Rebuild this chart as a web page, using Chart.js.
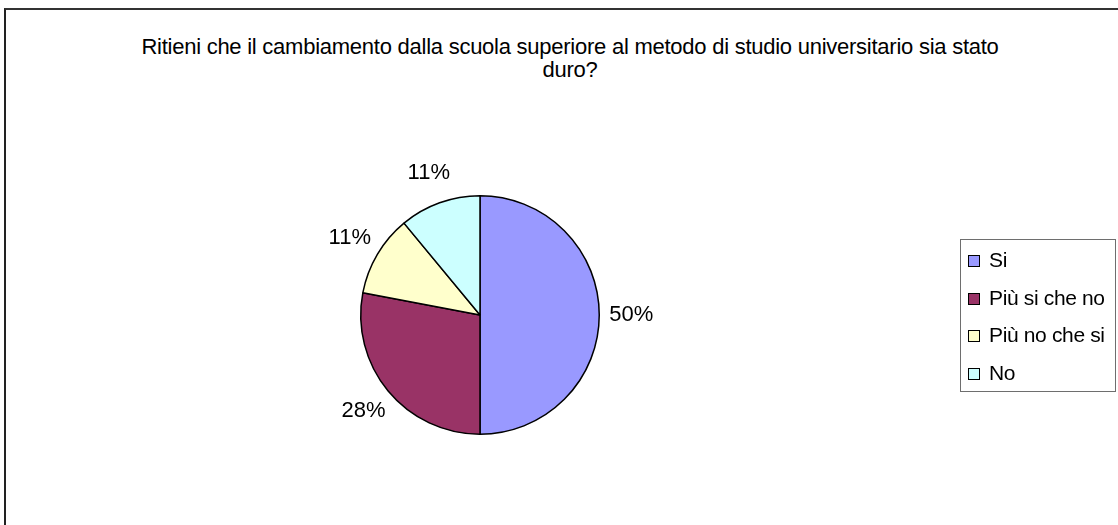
<!DOCTYPE html>
<html>
<head>
<meta charset="utf-8">
<script src="https://cdn.jsdelivr.net/npm/chart.js@4/dist/chart.umd.min.js"></script>
<style>
    html, body { margin: 0; padding: 0; background: #fff; overflow: hidden; }
    body { width: 1118px; height: 525px; position: relative; font-family: "Liberation Sans", Arial, sans-serif; }
    .frame {
        position: absolute; left: 4px; top: 8px; width: 1200px; height: 600px;
        border-left: 2px solid #222; border-top: 2px solid #333;
    }
    .title {
        position: absolute; left: 0; width: 1140px; top: 35px;
        text-align: center; font-size: 22px; line-height: 23px; color: #000;
        letter-spacing: -0.25px;
    }
    #chart { position: absolute; left: 0; top: 0; }
    .legend {
        position: absolute; left: 960px; top: 239px; width: 156px; height: 153px;
        border: 1px solid #6e6e6e; box-sizing: border-box;
    }
    .legend div {
        position: absolute; left: 28px; font-size: 21px; line-height: 20px;
        letter-spacing: -0.35px; white-space: nowrap;
    }
    .legend span {
        position: absolute; left: -21px; top: 5px; width: 10px; height: 10px;
        border: 1px solid #000;
    }
</style>
</head>
<body>
<div class="frame"></div>
<div class="title">Ritieni che il cambiamento dalla scuola superiore al metodo di studio universitario sia stato<br>duro?</div>
<canvas id="chart" width="1118" height="525"></canvas>
<div class="legend" id="legend"></div>
<script>
// dati del grafico
const categorie = ['Si', 'Più si che no', 'Più no che si', 'No'];
const percentuali = [50, 28, 11, 11];
const colori = ['#9999FF', '#993366', '#FFFFCC', '#CCFFFF'];

// etichette percentuali fuori dalla torta
const etichettePlugin = {
    id: 'etichette',
    afterDatasetsDraw(chart) {
        const ctx = chart.ctx;
        const meta = chart.getDatasetMeta(0);
        const dati = chart.data.datasets[0].data;
        const totale = dati.reduce((a, b) => a + b, 0);
        ctx.save();
        ctx.font = '22px "Liberation Sans", Arial, sans-serif';
        ctx.fillStyle = '#000';
        ctx.textAlign = 'center';
        ctx.textBaseline = 'middle';
        meta.data.forEach((arc, i) => {
            const p = arc.getProps(['x', 'y', 'startAngle', 'endAngle', 'outerRadius'], true);
            const mid = (p.startAngle + p.endAngle) / 2;
            const dist = p.outerRadius + 32;
            const testo = Math.round(dati[i] / totale * 100) + '%';
            ctx.fillText(testo, p.x + Math.cos(mid) * dist, p.y + Math.sin(mid) * dist);
        });
        ctx.restore();
    }
};

const grafico = new Chart(document.getElementById('chart'), {
    type: 'pie',
    data: {
        labels: categorie,
        datasets: [{
            data: percentuali,
            backgroundColor: colori,
            borderColor: '#000',
            borderWidth: 1.5
        }]
    },
    options: {
        responsive: false,
        animation: false,
        layout: {
            padding: { left: 360, right: 518, top: 195, bottom: 90 }
        },
        plugins: {
            legend: { display: false },
            tooltip: { enabled: false }
        }
    },
    plugins: [etichettePlugin]
});

// legenda costruita dagli stessi array
const legenda = document.getElementById('legend');
categorie.forEach((nome, i) => {
    const riga = document.createElement('div');
    riga.style.top = (10 + i * 37.7) + 'px';
    riga.innerHTML = '<span style="background:' + colori[i] + '"></span>' + nome;
    legenda.appendChild(riga);
});
</script>
</body>
</html>
